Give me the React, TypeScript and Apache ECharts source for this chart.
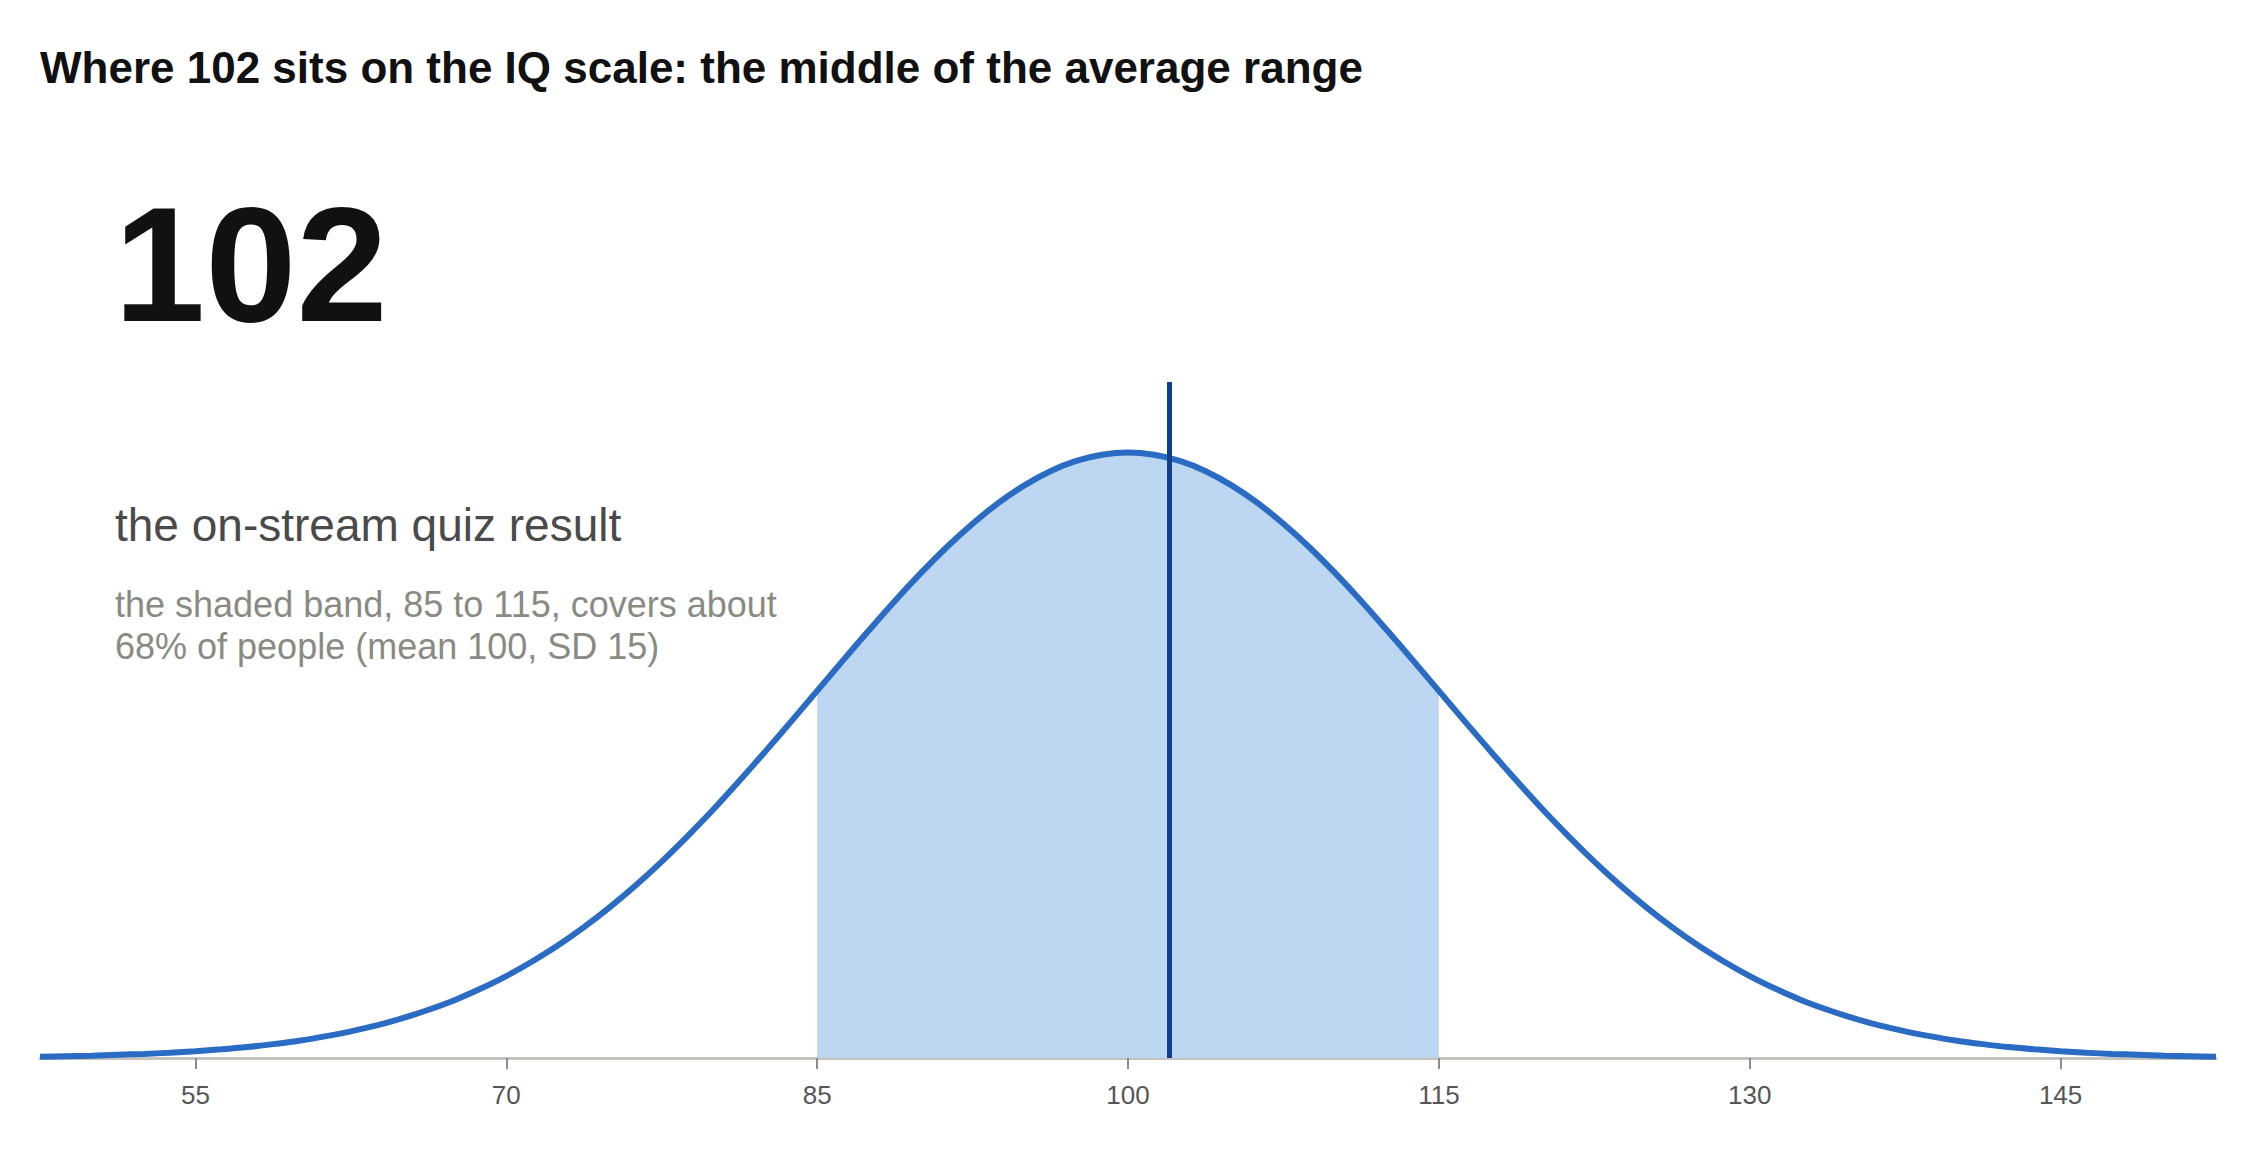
import React, { useEffect, useRef } from "react";
import * as echarts from "echarts";

// IQ scale positions (every 1.25 points) and the curve height (per 1000 people per point)
const iqPoints = [
  47.5, 48.75, 50, 51.25, 52.5, 53.75, 55, 56.25, 57.5, 58.75, 60, 61.25, 62.5, 63.75, 65, 66.25, 67.5,
  68.75, 70, 71.25, 72.5, 73.75, 75, 76.25, 77.5, 78.75, 80, 81.25, 82.5, 83.75, 85, 86.25, 87.5, 88.75,
  90, 91.25, 92.5, 93.75, 95, 96.25, 97.5, 98.75, 100, 101.25, 102.5, 103.75, 105, 106.25, 107.5, 108.75,
  110, 111.25, 112.5, 113.75, 115, 116.25, 117.5, 118.75, 120, 121.25, 122.5, 123.75, 125, 126.25, 127.5,
  128.75, 130, 131.25, 132.5, 133.75, 135, 136.25, 137.5, 138.75, 140, 141.25, 142.5, 143.75, 145, 146.25,
  147.5, 148.75, 150, 151.25, 152.5,
];
const density = [
  0.06, 0.08, 0.1, 0.14, 0.18, 0.23, 0.3, 0.38, 0.48, 0.61, 0.76, 0.95, 1.17, 1.43, 1.75, 2.12, 2.54,
  3.04, 3.6, 4.24, 4.95, 5.75, 6.63, 7.59, 8.63, 9.75, 10.93, 12.18, 13.47, 14.79, 16.13, 17.47, 18.79,
  20.08, 21.3, 22.44, 23.47, 24.39, 25.16, 25.78, 26.23, 26.5, 26.6, 26.5, 26.23, 25.78, 25.16, 24.39,
  23.47, 22.44, 21.3, 20.08, 18.79, 17.47, 16.13, 14.79, 13.47, 12.18, 10.93, 9.75, 8.63, 7.59, 6.63,
  5.75, 4.95, 4.24, 3.6, 3.04, 2.54, 2.12, 1.75, 1.43, 1.17, 0.95, 0.76, 0.61, 0.48, 0.38, 0.3, 0.23,
  0.18, 0.14, 0.1, 0.08, 0.06,
];
const tickValues = [55, 70, 85, 100, 115, 130, 145];
const bandFrom = 85;
const bandTo = 115;
const score = 102;

const titleText = "Where 102 sits on the IQ scale: the middle of the average range";
const bigNumber = "102";
const headline = "the on-stream quiz result";
const noteLines = ["the shaded band, 85 to 115, covers about", "68% of people (mean 100, SD 15)"];

const FONT = "'Liberation Sans', Arial, Helvetica, sans-serif";

const App: React.FC = () => {
  const chartRef = useRef<HTMLDivElement>(null);

  useEffect(() => {
    document.body.style.margin = "0";
    if (!chartRef.current) return;
    const chart = echarts.init(chartRef.current, undefined, { renderer: "svg" });

    const curve = iqPoints.map((x, i) => [x, density[i]]);
    const band = curve.filter(([x]) => x >= bandFrom && x <= bandTo);

    const option: echarts.EChartsOption = {
      animation: false,
      backgroundColor: "#ffffff",
      grid: { left: 40, right: 40, top: 382, bottom: 94 },
      xAxis: {
        type: "value",
        min: 47.5,
        max: 152.5,
        splitLine: { show: false },
        axisLine: { lineStyle: { color: "#c3c3bb", width: 3 } },
        axisTick: {
          show: true,
          customValues: tickValues,
          length: 11,
          lineStyle: { color: "#8c8c8c", width: 2 },
        },
        axisLabel: {
          customValues: tickValues,
          fontSize: 26,
          color: "#555555",
          fontFamily: FONT,
          margin: 24,
        },
      },
      yAxis: { type: "value", min: 0, max: 29.7, show: false },
      series: [
        {
          type: "line",
          data: band,
          smooth: 0.3,
          showSymbol: false,
          silent: true,
          lineStyle: { width: 0, opacity: 0 },
          areaStyle: { color: "#bdd7f3", opacity: 1 },
          z: 1,
        },
        {
          type: "line",
          data: curve,
          smooth: 0.3,
          showSymbol: false,
          silent: true,
          lineStyle: { color: "#2a6bc3", width: 6 },
          z: 2,
          markLine: {
            silent: true,
            symbol: ["none", "none"],
            label: { show: false },
            lineStyle: { color: "#10408a", width: 5, type: "solid" },
            data: [{ xAxis: score }],
          },
        },
      ],
      graphic: [
        {
          type: "text",
          x: 40,
          y: 67,
          style: {
            text: titleText,
            font: `bold 44px ${FONT}`,
            fill: "#111111",
            verticalAlign: "middle",
          },
        },
        {
          type: "text",
          x: 114,
          y: 264,
          style: {
            text: bigNumber,
            font: `bold 164px ${FONT}`,
            fill: "#111111",
            verticalAlign: "middle",
          },
        },
        {
          type: "text",
          x: 115,
          y: 525,
          style: {
            text: headline,
            font: `46px ${FONT}`,
            fill: "#4a4a4a",
            verticalAlign: "middle",
          },
        },
        ...noteLines.map((line, i) => ({
          type: "text" as const,
          x: 115,
          y: 604 + i * 42,
          style: {
            text: line,
            font: `36px ${FONT}`,
            fill: "#8a8a84",
            verticalAlign: "middle" as const,
          },
        })),
      ],
    };

    chart.setOption(option);
    return () => chart.dispose();
  }, []);

  return <div ref={chartRef} style={{ width: 2256, height: 1152 }} />;
};

export default App;
